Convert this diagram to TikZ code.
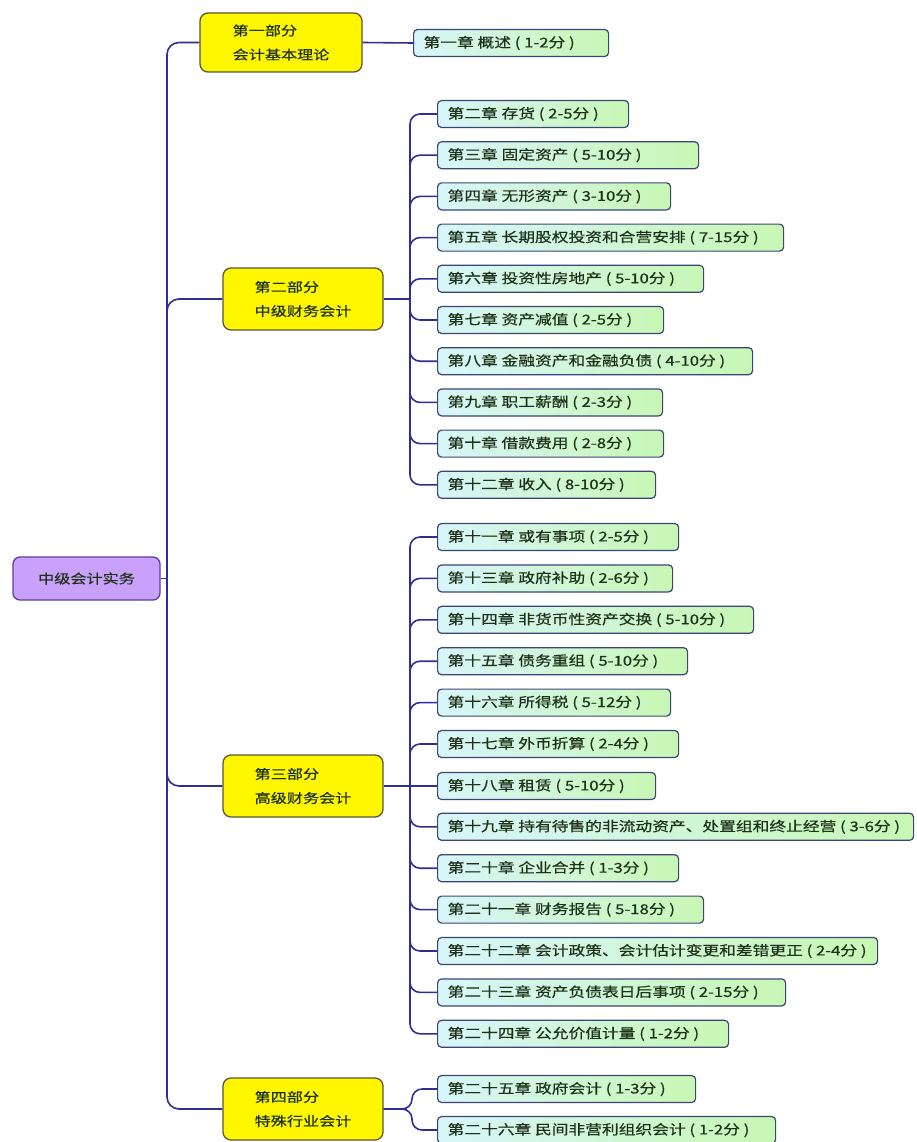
\documentclass[tikz,border=0pt]{standalone}
\usepackage{fontspec}
\newfontfamily\cjk[FakeStretch=1.24,FakeBold=0.5]{Noto Sans CJK SC}
\definecolor{linec}{HTML}{2E2E96}
\definecolor{chapl}{HTML}{D8F6FA}
\definecolor{chapr}{HTML}{C8F7B4}
\definecolor{chapb}{HTML}{3B4677}
\definecolor{yel}{HTML}{FFF700}
\definecolor{partb}{HTML}{5A5536}
\definecolor{rootf}{HTML}{C9A0FA}
\definecolor{rootb}{HTML}{5B3F9E}
\definecolor{txt}{HTML}{1E321A}
\begin{document}
\begin{tikzpicture}[x=1pt,y=-1pt,
  font=\cjk\fontsize{13.5}{16}\selectfont,
  chapbox/.style={draw=chapb, line width=1.2pt, rounded corners=4pt,
    left color=chapl, right color=chapr, minimum height=27pt, anchor=west,
    inner xsep=10pt, inner ysep=2pt, text=txt},
  partbox/.style={draw=partb, line width=1.3pt, rounded corners=8pt, fill=yel,
    text=txt, align=left, minimum width=160pt, minimum height=62pt,
    font=\cjk\fontsize{13}{24}\selectfont},
  rootbox/.style={draw=rootb, line width=1.3pt, rounded corners=7pt, fill=rootf,
    text=txt, minimum width=147pt, minimum height=43pt,
    font=\cjk\fontsize{13}{16}\selectfont},
  conn/.style={draw=linec, line width=1.6pt, rounded corners=12pt},
  sconn/.style={draw=linec, line width=1.6pt, rounded corners=10pt}]
\useasboundingbox (0,0) rectangle (917,1142);

% root
\node[rootbox] (root) at (86.5,578.5) {中级会计实务};

% parts
\node[partbox, minimum width=162pt, minimum height=59pt] (p1) at (281,42.5) {第一部分\\会计基本理论};
\node[partbox] (p2) at (303,299) {第二部分\\中级财务会计};
\node[partbox] (p3) at (303,786) {第三部分\\高级财务会计};
\node[partbox] (p4) at (303,1109) {第四部分\\特殊行业会计};

% trunk
\coordinate (tr) at (167,578.5);
\draw[conn] (root.east) -- (tr);
\foreach \p in {p1,p2,p3,p4} {
  \draw[conn] (tr) -- (tr |- \p.west) -- (\p.west);
}

% part 1
\node[chapbox] (c1) at (413,43) {\makebox[175pt][l]{第一章 概述 ( 1-2分 )}};
\draw[sconn] (p1.east) -- (c1.west);

% part 2
\coordinate (s2) at (410,299);
\draw[sconn] (p2.east) -- (s2);
\foreach \n/\y/\r/\t in {
  c2/114/628/{第二章 存货 ( 2-5分 )},
  c3/155.2/698/{第三章 固定资产 ( 5-10分 )},
  c4/196.4/670/{第四章 无形资产 ( 3-10分 )},
  c5/237.6/783/{第五章 长期股权投资和合营安排 ( 7-15分 )},
  c6/278.8/703/{第六章 投资性房地产 ( 5-10分 )},
  c7/320/663/{第七章 资产减值 ( 2-5分 )},
  c8/361.2/752/{第八章 金融资产和金融负债 ( 4-10分 )},
  c9/402.4/662/{第九章 职工薪酬 ( 2-3分 )},
  c10/443.6/663/{第十章 借款费用 ( 2-8分 )},
  c12/484.8/655/{第十二章 收入 ( 8-10分 )}} {
  \pgfmathsetmacro\tw{\r-437-20}
  \node[chapbox] (\n) at (437,\y) {\makebox[\tw pt][l]{\t}};
  \draw[sconn] (s2) -- (s2 |- \n.west) -- (\n.west);
}

% part 3
\coordinate (s3) at (410,786);
\node[chapbox] (c18) at (437,786) {\makebox[198pt][l]{第十八章 租赁 ( 5-10分 )}};
\draw[sconn] (p3.east) -- (c18.west);
\foreach \n/\y/\r/\t in {
  c11/537/678/{第十一章 或有事项 ( 2-5分 )},
  c13/578.4/672/{第十三章 政府补助 ( 2-6分 )},
  c14/619.8/753/{第十四章 非货币性资产交换 ( 5-10分 )},
  c15/661.2/687/{第十五章 债务重组 ( 5-10分 )},
  c16/702.6/670/{第十六章 所得税 ( 5-12分 )},
  c17/744/678/{第十七章 外币折算 ( 2-4分 )},
  c19/826.8/913/{第十九章 持有待售的非流动资产、处置组和终止经营 ( 3-6分 )},
  c20/868.2/678/{第二十章 企业合并 ( 1-3分 )},
  c21/909.6/703/{第二十一章 财务报告 ( 5-18分 )},
  c22/951/877/{第二十二章 会计政策、会计估计变更和差错更正 ( 2-4分 )},
  c23/992.4/785/{第二十三章 资产负债表日后事项 ( 2-15分 )},
  c24/1033.8/728/{第二十四章 公允价值计量 ( 1-2分 )}} {
  \pgfmathsetmacro\tw{\r-437-20}
  \node[chapbox] (\n) at (437,\y) {\makebox[\tw pt][l]{\t}};
  \draw[sconn] (s3) -- (s3 |- \n.west) -- (\n.west);
}

% part 4
\coordinate (s4) at (412,1109);
\foreach \n/\y/\r/\t in {
  c25/1089/695/{第二十五章 政府会计 ( 1-3分 )},
  c26/1130/775/{第二十六章 民间非营利组织会计 ( 1-2分 )}} {
  \pgfmathsetmacro\tw{\r-437-20}
  \node[chapbox] (\n) at (437,\y) {\makebox[\tw pt][l]{\t}};
  \draw[sconn] (p4.east) -- (s4) -- (s4 |- \n.west) -- (\n.west);
}
\end{tikzpicture}
\end{document}
